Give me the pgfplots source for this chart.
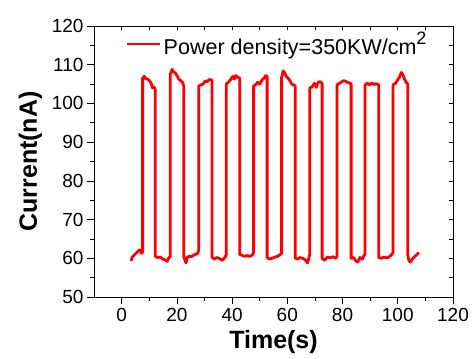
\documentclass[border=0pt]{standalone}
\usepackage{fontspec}
\setmainfont{Liberation Sans}
\usepackage{pgfplots}
\pgfplotsset{compat=1.18}
\begin{document}
\begin{tikzpicture}
\begin{axis}[
  name=ax,
  scale only axis, width=359bp, height=271bp,
  xmin=-10, xmax=120, ymin=50, ymax=120,
  xtick={0,20,...,120}, ytick={50,60,...,120},
  minor x tick num=1, minor y tick num=1,
  xtick pos=left, ytick pos=left, tick align=outside,
  major tick length=7bp, minor tick length=4bp,
  every tick/.style={black, line width=0.6bp},
  axis line style={line width=0.7bp},
  /pgf/number format/assume math mode=true,
  tick label style={font=\fontsize{19bp}{21bp}\selectfont},
  xticklabel style={yshift=-1bp},
  xlabel={\bfseries Time(s)}, ylabel={\bfseries Current(nA)},
  label style={font=\fontsize{25bp}{28bp}\selectfont\bfseries},
  xlabel style={yshift=-2bp}, ylabel style={yshift=3bp},
  legend style={draw=none, fill=none, at={(axis cs:1.5,119)}, anchor=north west,
    font=\fontsize{21.5bp}{23bp}\selectfont, inner sep=0pt},
  legend image code/.code={\draw[#1, line width=2.8bp] (0bp,0bp) -- (33bp,0bp);},
]
\addplot[red, line width=2.8bp, line join=round] coordinates {
(3.4,59.3) (3.8,60.2) (4.5,60.8) (5.5,61.5) (6.2,62.0) (6.8,62.2) (7.1,61.3) (7.6,61.5)
(7.6,106.5) (8.2,107.0) (8.8,106.4) (9.5,106.2) (10.2,105.8) (10.8,105.0) (11.2,104.0) (11.8,104.2) (12.2,103.5)
(12.2,60.5) (13,60.2) (14,60.3) (15,59.8) (16,59.5) (16.5,59.2) (17,60.0) (17.6,60.5)
(17.6,107.5) (18.3,108.8) (18.8,108.2) (19.5,107.8) (20.2,107.0) (20.8,106.2) (21.5,105.8) (22.0,105.5) (22.5,104.5)
(22.5,60.5) (23.3,58.8) (23.8,60.3) (24.5,60.5) (25.5,60.5) (26.5,61.0) (27.5,61.2) (27.9,62)
(27.9,104.5) (28.7,104.8) (29.5,105.0) (30.3,105.8) (31.0,105.6) (31.8,106.2) (32.7,106.0)
(32.7,60.3) (33.5,59.8) (34.5,60.2) (35.5,59.9) (36.5,59.5) (37.5,60.3) (37.9,61)
(37.9,105.0) (38.8,105.6) (39.6,106.3) (40.3,107.0) (40.8,106.3) (41.3,107.2) (42,106.8) (42.8,106.5)
(42.8,61.0) (43.5,60.8) (44.5,60.5) (45.5,60.7) (46.5,60.5) (47.5,61.0) (47.8,61.5)
(47.8,104.5) (48.5,104.8) (49.3,105.5) (50.0,105.0) (50.8,106.0) (51.5,106.5) (52.2,107.2) (52.7,107.0)
(52.7,60.2) (53.5,59.8) (54.5,60.0) (55.5,60.3) (56.5,60.5) (57.5,61.0) (57.9,61.2)
(57.9,106.5) (58.5,108.4) (59.0,108.0) (59.6,107.0) (60.3,106.5) (61.0,105.8) (61.6,105.0) (62.3,104.8) (62.9,104.5)
(62.9,60.0) (63.8,59.8) (64.5,60.2) (65.5,60.0) (66.5,59.6) (67.3,58.8) (67.8,60.0) (68.1,61)
(68.1,104.0) (69,104.3) (69.8,105.2) (70.5,104.2) (71.2,105.5) (72,105.6) (72.6,105.2)
(72.6,60.0) (73.5,59.5) (74.5,60.3) (75.5,60.1) (76.5,60.4) (77.5,60.0) (78.0,60.5)
(78.0,104.8) (78.8,105.2) (79.6,105.5) (80.4,105.9) (81.2,105.7) (82.0,105.4) (83.1,105.1)
(83.1,60.0) (84,60.2) (84.8,59.3) (85.5,59.0) (86.3,60.2) (87.2,59.8) (87.8,60.8) (88.1,61)
(88.1,104.8) (89,105.2) (89.8,104.8) (90.6,105.3) (91.4,104.9) (92.2,105.1) (93.1,104.8)
(93.1,60.2) (94,60.0) (95,60.3) (96,60.1) (97,60.4) (97.8,61.0) (98.3,61.5)
(98.3,104.8) (99.2,105.2) (99.9,106.0) (100.6,106.8) (101.3,108.0) (101.8,107.5) (102.5,106.2) (103.0,105.5) (103.6,105.0)
(103.6,61) (104.0,59.5) (104.5,59.0) (105.3,59.8) (106.2,60.5) (107.0,61.0) (107.6,61.5)
};
\addlegendentry{Power density=350KW/cm\raisebox{0.45em}{\fontsize{18bp}{19bp}\selectfont 2}}
\end{axis}
\begin{axis}[
  scale only axis, width=359bp, height=271bp,
  xmin=-10, xmax=120, ymin=50, ymax=120,
  xtick={0,20,...,120}, ytick={50,60,...,120},
  minor x tick num=1, minor y tick num=1,
  xtick pos=right, ytick pos=right, tick align=inside,
  major tick length=4bp, minor tick length=4bp,
  every tick/.style={black, line width=0.6bp},
  axis line style={line width=0.7bp},
  xticklabels={}, yticklabels={},
]
\end{axis}
\pgfresetboundingbox
\path[use as bounding box] (ax.south west) ++(-94bp,-62bp) rectangle ++(474bp,359bp);
\end{tikzpicture}
\end{document}
